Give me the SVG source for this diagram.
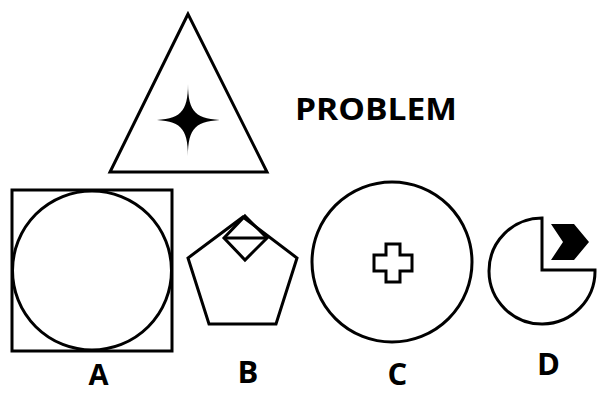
<svg xmlns="http://www.w3.org/2000/svg" width="597" height="394" viewBox="0 0 597 394">
<style>
.s{fill:none;stroke:#000;stroke-width:3;stroke-linejoin:miter}
.t{font-family:"Open Sans","Liberation Sans",Arial,sans-serif;font-weight:bold;fill:#000;text-anchor:middle}
</style>
<rect width="597" height="394" fill="#fff"/>
<g id="problem">
<polygon class="s" points="188,14 110,172 267,172"/>
<path d="M188,84 C188,112 196,120 225,120 C196,120 188,128 188,156 C188,128 180,120 152,120 C180,120 188,112 188,84 Z" fill="#000"/>
<text class="t" x="376" y="120" font-size="30" textLength="162" lengthAdjust="spacingAndGlyphs">PROBLEM</text>
</g>
<g id="A">
<rect class="s" x="12" y="190" width="160" height="161"/>
<circle class="s" cx="92" cy="270.5" r="79.5"/>
<text class="t" x="98.5" y="385" font-size="29">A</text>
</g>
<g id="B">
<polygon class="s" points="243,217 297,258 276,324 209,324 188,258"/>
<polygon class="s" points="245,216 267,238 245,260 224,238"/>
<line class="s" x1="224" y1="238" x2="267" y2="238"/>
<text class="t" x="248" y="383" font-size="31">B</text>
</g>
<g id="C">
<circle class="s" cx="392" cy="262" r="80"/>
<path class="s" d="M386,244 H400 V255 H412 V271 H400 V282 H386 V271 H374 V255 H386 Z"/>
<text class="t" x="397.5" y="385" font-size="31">C</text>
</g>
<g id="D">
<path class="s" d="M542,218 V270 H595 A53,53 0 1 1 542,218 Z"/>
<polygon points="551,224 574,224 589,242 574,260 551,260 563,242" fill="#000"/>
<text class="t" x="548.5" y="375" font-size="31">D</text>
</g>
</svg>
